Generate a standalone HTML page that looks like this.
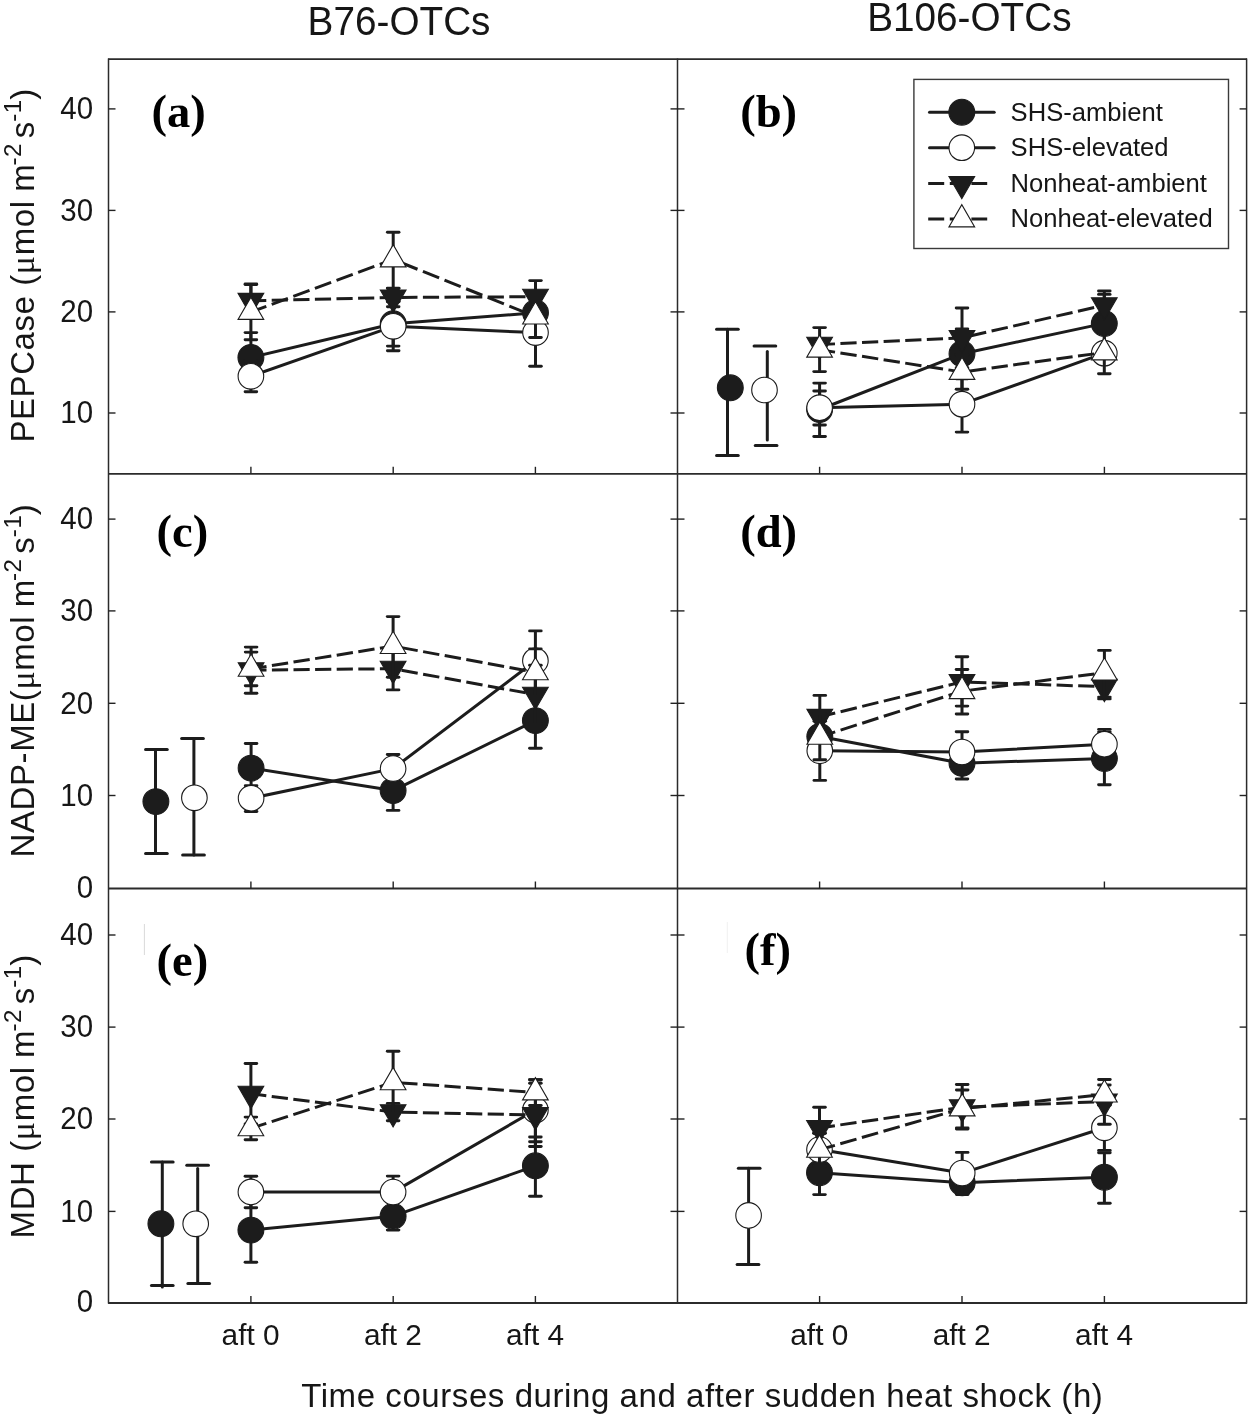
<!DOCTYPE html>
<html><head><meta charset="utf-8"><title>Figure</title>
<style>
html,body{margin:0;padding:0;background:#fff;}
body{width:1250px;height:1418px;overflow:hidden;font-family:"Liberation Sans",sans-serif;}
svg{display:block;}
svg text{font-family:"Liberation Sans",sans-serif;}
svg{will-change:transform;}
svg .ser{font-family:"Liberation Serif",serif;}
</style></head><body>
<svg width="1250" height="1418" viewBox="0 0 1250 1418">
<rect x="0" y="0" width="1250" height="1418" fill="#ffffff"/>
<line x1="108.50" y1="58.60" x2="108.50" y2="1303.60" stroke="#2b2b2b" stroke-width="1.5" />
<line x1="677.50" y1="58.60" x2="677.50" y2="1303.60" stroke="#2b2b2b" stroke-width="1.5" />
<line x1="1246.60" y1="58.60" x2="1246.60" y2="1303.60" stroke="#2b2b2b" stroke-width="1.5" />
<line x1="108.10" y1="59.20" x2="1247.00" y2="59.20" stroke="#2b2b2b" stroke-width="1.8" />
<line x1="108.10" y1="473.80" x2="1247.00" y2="473.80" stroke="#2b2b2b" stroke-width="1.8" />
<line x1="108.10" y1="888.50" x2="1247.00" y2="888.50" stroke="#2b2b2b" stroke-width="1.8" />
<line x1="108.10" y1="1303.00" x2="1247.00" y2="1303.00" stroke="#2b2b2b" stroke-width="1.8" />
<line x1="108.50" y1="108.90" x2="115.50" y2="108.90" stroke="#222" stroke-width="1.4" />
<line x1="670.50" y1="108.90" x2="684.50" y2="108.90" stroke="#222" stroke-width="1.4" />
<line x1="1239.60" y1="108.90" x2="1246.60" y2="108.90" stroke="#222" stroke-width="1.4" />
<line x1="108.50" y1="210.40" x2="115.50" y2="210.40" stroke="#222" stroke-width="1.4" />
<line x1="670.50" y1="210.40" x2="684.50" y2="210.40" stroke="#222" stroke-width="1.4" />
<line x1="1239.60" y1="210.40" x2="1246.60" y2="210.40" stroke="#222" stroke-width="1.4" />
<line x1="108.50" y1="311.90" x2="115.50" y2="311.90" stroke="#222" stroke-width="1.4" />
<line x1="670.50" y1="311.90" x2="684.50" y2="311.90" stroke="#222" stroke-width="1.4" />
<line x1="1239.60" y1="311.90" x2="1246.60" y2="311.90" stroke="#222" stroke-width="1.4" />
<line x1="108.50" y1="413.00" x2="115.50" y2="413.00" stroke="#222" stroke-width="1.4" />
<line x1="670.50" y1="413.00" x2="684.50" y2="413.00" stroke="#222" stroke-width="1.4" />
<line x1="1239.60" y1="413.00" x2="1246.60" y2="413.00" stroke="#222" stroke-width="1.4" />
<line x1="108.50" y1="519.10" x2="115.50" y2="519.10" stroke="#222" stroke-width="1.4" />
<line x1="670.50" y1="519.10" x2="684.50" y2="519.10" stroke="#222" stroke-width="1.4" />
<line x1="1239.60" y1="519.10" x2="1246.60" y2="519.10" stroke="#222" stroke-width="1.4" />
<line x1="108.50" y1="610.90" x2="115.50" y2="610.90" stroke="#222" stroke-width="1.4" />
<line x1="670.50" y1="610.90" x2="684.50" y2="610.90" stroke="#222" stroke-width="1.4" />
<line x1="1239.60" y1="610.90" x2="1246.60" y2="610.90" stroke="#222" stroke-width="1.4" />
<line x1="108.50" y1="703.30" x2="115.50" y2="703.30" stroke="#222" stroke-width="1.4" />
<line x1="670.50" y1="703.30" x2="684.50" y2="703.30" stroke="#222" stroke-width="1.4" />
<line x1="1239.60" y1="703.30" x2="1246.60" y2="703.30" stroke="#222" stroke-width="1.4" />
<line x1="108.50" y1="795.50" x2="115.50" y2="795.50" stroke="#222" stroke-width="1.4" />
<line x1="670.50" y1="795.50" x2="684.50" y2="795.50" stroke="#222" stroke-width="1.4" />
<line x1="1239.60" y1="795.50" x2="1246.60" y2="795.50" stroke="#222" stroke-width="1.4" />
<line x1="108.50" y1="935.00" x2="115.50" y2="935.00" stroke="#222" stroke-width="1.4" />
<line x1="670.50" y1="935.00" x2="684.50" y2="935.00" stroke="#222" stroke-width="1.4" />
<line x1="1239.60" y1="935.00" x2="1246.60" y2="935.00" stroke="#222" stroke-width="1.4" />
<line x1="108.50" y1="1027.10" x2="115.50" y2="1027.10" stroke="#222" stroke-width="1.4" />
<line x1="670.50" y1="1027.10" x2="684.50" y2="1027.10" stroke="#222" stroke-width="1.4" />
<line x1="1239.60" y1="1027.10" x2="1246.60" y2="1027.10" stroke="#222" stroke-width="1.4" />
<line x1="108.50" y1="1119.00" x2="115.50" y2="1119.00" stroke="#222" stroke-width="1.4" />
<line x1="670.50" y1="1119.00" x2="684.50" y2="1119.00" stroke="#222" stroke-width="1.4" />
<line x1="1239.60" y1="1119.00" x2="1246.60" y2="1119.00" stroke="#222" stroke-width="1.4" />
<line x1="108.50" y1="1211.40" x2="115.50" y2="1211.40" stroke="#222" stroke-width="1.4" />
<line x1="670.50" y1="1211.40" x2="684.50" y2="1211.40" stroke="#222" stroke-width="1.4" />
<line x1="1239.60" y1="1211.40" x2="1246.60" y2="1211.40" stroke="#222" stroke-width="1.4" />
<line x1="250.90" y1="466.80" x2="250.90" y2="473.80" stroke="#222" stroke-width="1.4" />
<line x1="393.20" y1="466.80" x2="393.20" y2="473.80" stroke="#222" stroke-width="1.4" />
<line x1="535.40" y1="466.80" x2="535.40" y2="473.80" stroke="#222" stroke-width="1.4" />
<line x1="819.60" y1="466.80" x2="819.60" y2="473.80" stroke="#222" stroke-width="1.4" />
<line x1="962.00" y1="466.80" x2="962.00" y2="473.80" stroke="#222" stroke-width="1.4" />
<line x1="1104.40" y1="466.80" x2="1104.40" y2="473.80" stroke="#222" stroke-width="1.4" />
<line x1="250.90" y1="881.50" x2="250.90" y2="888.50" stroke="#222" stroke-width="1.4" />
<line x1="393.20" y1="881.50" x2="393.20" y2="888.50" stroke="#222" stroke-width="1.4" />
<line x1="535.40" y1="881.50" x2="535.40" y2="888.50" stroke="#222" stroke-width="1.4" />
<line x1="819.60" y1="881.50" x2="819.60" y2="888.50" stroke="#222" stroke-width="1.4" />
<line x1="962.00" y1="881.50" x2="962.00" y2="888.50" stroke="#222" stroke-width="1.4" />
<line x1="1104.40" y1="881.50" x2="1104.40" y2="888.50" stroke="#222" stroke-width="1.4" />
<line x1="250.90" y1="1296.00" x2="250.90" y2="1303.00" stroke="#222" stroke-width="1.4" />
<line x1="393.20" y1="1296.00" x2="393.20" y2="1303.00" stroke="#222" stroke-width="1.4" />
<line x1="535.40" y1="1296.00" x2="535.40" y2="1303.00" stroke="#222" stroke-width="1.4" />
<line x1="819.60" y1="1296.00" x2="819.60" y2="1303.00" stroke="#222" stroke-width="1.4" />
<line x1="962.00" y1="1296.00" x2="962.00" y2="1303.00" stroke="#222" stroke-width="1.4" />
<line x1="1104.40" y1="1296.00" x2="1104.40" y2="1303.00" stroke="#222" stroke-width="1.4" />
<text transform="translate(93.1,119.2) scale(0.96,1)" font-size="30.7" text-anchor="end" fill="#161616">40</text>
<text transform="translate(93.1,220.7) scale(0.96,1)" font-size="30.7" text-anchor="end" fill="#161616">30</text>
<text transform="translate(93.1,322.2) scale(0.96,1)" font-size="30.7" text-anchor="end" fill="#161616">20</text>
<text transform="translate(93.1,423.3) scale(0.96,1)" font-size="30.7" text-anchor="end" fill="#161616">10</text>
<text transform="translate(93.1,529.4) scale(0.96,1)" font-size="30.7" text-anchor="end" fill="#161616">40</text>
<text transform="translate(93.1,621.2) scale(0.96,1)" font-size="30.7" text-anchor="end" fill="#161616">30</text>
<text transform="translate(93.1,713.6) scale(0.96,1)" font-size="30.7" text-anchor="end" fill="#161616">20</text>
<text transform="translate(93.1,805.8) scale(0.96,1)" font-size="30.7" text-anchor="end" fill="#161616">10</text>
<text transform="translate(93.1,897.5) scale(0.96,1)" font-size="30.7" text-anchor="end" fill="#161616">0</text>
<text transform="translate(93.1,945.3) scale(0.96,1)" font-size="30.7" text-anchor="end" fill="#161616">40</text>
<text transform="translate(93.1,1037.4) scale(0.96,1)" font-size="30.7" text-anchor="end" fill="#161616">30</text>
<text transform="translate(93.1,1129.3) scale(0.96,1)" font-size="30.7" text-anchor="end" fill="#161616">20</text>
<text transform="translate(93.1,1221.7) scale(0.96,1)" font-size="30.7" text-anchor="end" fill="#161616">10</text>
<text transform="translate(93.1,1311.8) scale(0.96,1)" font-size="30.7" text-anchor="end" fill="#161616">0</text>
<text x="250.6" y="1344.9" font-size="29.8" text-anchor="middle" fill="#161616" word-spacing="0">aft 0</text>
<text x="392.9" y="1344.9" font-size="29.8" text-anchor="middle" fill="#161616" word-spacing="0">aft 2</text>
<text x="535.1" y="1344.9" font-size="29.8" text-anchor="middle" fill="#161616" word-spacing="0">aft 4</text>
<text x="819.3" y="1344.9" font-size="29.8" text-anchor="middle" fill="#161616" word-spacing="0">aft 0</text>
<text x="961.7" y="1344.9" font-size="29.8" text-anchor="middle" fill="#161616" word-spacing="0">aft 2</text>
<text x="1104.1" y="1344.9" font-size="29.8" text-anchor="middle" fill="#161616" word-spacing="0">aft 4</text>
<text transform="translate(307.6,35.1) scale(0.968,1)" font-size="40" fill="#161616">B76-OTCs</text>
<text transform="translate(867.2,30.7) scale(0.968,1)" font-size="40" fill="#161616">B106-OTCs</text>
<text x="301.2" y="1406.9" font-size="33" letter-spacing="0.575" fill="#161616">Time courses during and after sudden heat shock (h)</text>
<text transform="translate(34.1,442.6) rotate(-90)" font-size="33" letter-spacing="0.58" fill="#161616">PEPCase (<tspan class="ser" font-size="34">μ</tspan>mol <tspan dx="-1.2">m</tspan><tspan font-size="24.2" dy="-13.2" dx="-1.8">-2</tspan><tspan dy="13.2" dx="4.6">s</tspan><tspan font-size="24.2" dy="-13.2" dx="-0.6">-1</tspan><tspan dy="13.2" dx="-0.6">)</tspan></text>
<text transform="translate(34.1,857.4) rotate(-90)" font-size="33" letter-spacing="0.58" fill="#161616">NADP-ME(<tspan class="ser" font-size="34">μ</tspan>mol <tspan dx="-1.2">m</tspan><tspan font-size="24.2" dy="-13.2" dx="-1.8">-2</tspan><tspan dy="13.2" dx="4.6">s</tspan><tspan font-size="24.2" dy="-13.2" dx="-0.6">-1</tspan><tspan dy="13.2" dx="-0.6">)</tspan></text>
<text transform="translate(34.1,1238.4) rotate(-90)" font-size="33" letter-spacing="0.58" fill="#161616">MDH (<tspan class="ser" font-size="34">μ</tspan>mol <tspan dx="-1.2">m</tspan><tspan font-size="24.2" dy="-13.2" dx="-1.8">-2</tspan><tspan dy="13.2" dx="4.6">s</tspan><tspan font-size="24.2" dy="-13.2" dx="-0.6">-1</tspan><tspan dy="13.2" dx="-0.6">)</tspan></text>
<text class="ser" x="151.4" y="126.5" font-size="46.6" font-weight="bold" fill="#000">(a)</text>
<text class="ser" x="740.2" y="126.5" font-size="46.6" font-weight="bold" fill="#000">(b)</text>
<text class="ser" x="156.6" y="547.0" font-size="46.6" font-weight="bold" fill="#000">(c)</text>
<text class="ser" x="740.2" y="547.2" font-size="46.6" font-weight="bold" fill="#000">(d)</text>
<text class="ser" x="156.6" y="976.4" font-size="46.6" font-weight="bold" fill="#000">(e)</text>
<text class="ser" x="744.4" y="965.4" font-size="46.6" font-weight="bold" fill="#000">(f)</text>
<line x1="144.4" y1="924" x2="144.4" y2="955" stroke="#cfcfcf" stroke-width="0.8"/>
<line x1="727.3" y1="922" x2="727.3" y2="953" stroke="#ececec" stroke-width="0.8"/>
<line x1="727.50" y1="329.20" x2="727.50" y2="455.50" stroke="#1c1c1c" stroke-width="3.0" stroke-linecap="round"/>
<line x1="716.55" y1="329.20" x2="738.25" y2="329.20" stroke="#1c1c1c" stroke-width="3.0" stroke-linecap="round"/>
<line x1="716.55" y1="455.50" x2="738.25" y2="455.50" stroke="#1c1c1c" stroke-width="3.0" stroke-linecap="round"/>
<circle cx="730.30" cy="387.80" r="12.92" fill="#1c1c1c" stroke="#1c1c1c" stroke-width="1.1"/>
<line x1="767.30" y1="351.50" x2="767.30" y2="440.00" stroke="#1c1c1c" stroke-width="3.0" stroke-linecap="round"/>
<line x1="754.05" y1="346.10" x2="775.75" y2="346.10" stroke="#1c1c1c" stroke-width="3.0" stroke-linecap="round"/>
<line x1="755.25" y1="445.40" x2="776.95" y2="445.40" stroke="#1c1c1c" stroke-width="3.0" stroke-linecap="round"/>
<circle cx="764.50" cy="390.00" r="12.8" fill="#fff" stroke="#1c1c1c" stroke-width="1.1"/>
<line x1="155.50" y1="749.50" x2="155.50" y2="853.50" stroke="#1c1c1c" stroke-width="3.0" stroke-linecap="round"/>
<line x1="145.55" y1="749.50" x2="167.25" y2="749.50" stroke="#1c1c1c" stroke-width="3.0" stroke-linecap="round"/>
<line x1="145.55" y1="853.50" x2="167.25" y2="853.50" stroke="#1c1c1c" stroke-width="3.0" stroke-linecap="round"/>
<circle cx="155.90" cy="801.60" r="12.92" fill="#1c1c1c" stroke="#1c1c1c" stroke-width="1.1"/>
<line x1="193.90" y1="738.50" x2="193.90" y2="855.00" stroke="#1c1c1c" stroke-width="3.0" stroke-linecap="round"/>
<line x1="181.65" y1="738.50" x2="203.35" y2="738.50" stroke="#1c1c1c" stroke-width="3.0" stroke-linecap="round"/>
<line x1="182.65" y1="855.00" x2="204.35" y2="855.00" stroke="#1c1c1c" stroke-width="3.0" stroke-linecap="round"/>
<circle cx="194.40" cy="797.80" r="12.8" fill="#fff" stroke="#1c1c1c" stroke-width="1.1"/>
<line x1="162.30" y1="1161.90" x2="162.30" y2="1287.00" stroke="#1c1c1c" stroke-width="3.0" stroke-linecap="round"/>
<line x1="151.45" y1="1161.90" x2="173.15" y2="1161.90" stroke="#1c1c1c" stroke-width="3.0" stroke-linecap="round"/>
<line x1="151.45" y1="1285.60" x2="173.15" y2="1285.60" stroke="#1c1c1c" stroke-width="3.0" stroke-linecap="round"/>
<circle cx="160.90" cy="1223.80" r="12.92" fill="#1c1c1c" stroke="#1c1c1c" stroke-width="1.1"/>
<line x1="197.70" y1="1168.50" x2="197.70" y2="1281.50" stroke="#1c1c1c" stroke-width="3.0" stroke-linecap="round"/>
<line x1="186.75" y1="1165.20" x2="208.45" y2="1165.20" stroke="#1c1c1c" stroke-width="3.0" stroke-linecap="round"/>
<line x1="187.85" y1="1283.40" x2="209.55" y2="1283.40" stroke="#1c1c1c" stroke-width="3.0" stroke-linecap="round"/>
<circle cx="195.70" cy="1223.80" r="12.8" fill="#fff" stroke="#1c1c1c" stroke-width="1.1"/>
<line x1="748.60" y1="1168.20" x2="748.60" y2="1264.40" stroke="#1c1c1c" stroke-width="3.0" stroke-linecap="round"/>
<line x1="738.35" y1="1168.20" x2="760.05" y2="1168.20" stroke="#1c1c1c" stroke-width="3.0" stroke-linecap="round"/>
<line x1="737.15" y1="1264.40" x2="758.85" y2="1264.40" stroke="#1c1c1c" stroke-width="3.0" stroke-linecap="round"/>
<circle cx="748.60" cy="1215.40" r="12.8" fill="#fff" stroke="#1c1c1c" stroke-width="1.1"/>
<path d="M250.90,357.50 L393.20,323.80 L535.50,312.80" fill="none" stroke="#1c1c1c" stroke-width="3.0" stroke-linejoin="round"/>
<line x1="250.90" y1="332.60" x2="250.90" y2="382.40" stroke="#1c1c1c" stroke-width="3.0"/>
<line x1="245.10" y1="332.60" x2="256.70" y2="332.60" stroke="#1c1c1c" stroke-width="2.9" stroke-linecap="round"/>
<line x1="245.10" y1="382.40" x2="256.70" y2="382.40" stroke="#1c1c1c" stroke-width="2.9" stroke-linecap="round"/>
<line x1="393.20" y1="301.50" x2="393.20" y2="346.10" stroke="#1c1c1c" stroke-width="3.0"/>
<line x1="387.40" y1="301.50" x2="399.00" y2="301.50" stroke="#1c1c1c" stroke-width="2.9" stroke-linecap="round"/>
<line x1="387.40" y1="346.10" x2="399.00" y2="346.10" stroke="#1c1c1c" stroke-width="2.9" stroke-linecap="round"/>
<line x1="535.50" y1="297.80" x2="535.50" y2="327.80" stroke="#1c1c1c" stroke-width="3.0"/>
<line x1="529.70" y1="297.80" x2="541.30" y2="297.80" stroke="#1c1c1c" stroke-width="2.9" stroke-linecap="round"/>
<line x1="529.70" y1="327.80" x2="541.30" y2="327.80" stroke="#1c1c1c" stroke-width="2.9" stroke-linecap="round"/>
<circle cx="250.90" cy="357.50" r="12.92" fill="#1c1c1c" stroke="#1c1c1c" stroke-width="1.1"/>
<circle cx="393.20" cy="323.80" r="12.92" fill="#1c1c1c" stroke="#1c1c1c" stroke-width="1.1"/>
<circle cx="535.50" cy="312.80" r="12.92" fill="#1c1c1c" stroke="#1c1c1c" stroke-width="1.1"/>
<path d="M250.90,376.30 L393.20,326.30 L535.50,332.60" fill="none" stroke="#1c1c1c" stroke-width="3.0" stroke-linejoin="round"/>
<line x1="250.90" y1="360.90" x2="250.90" y2="391.70" stroke="#1c1c1c" stroke-width="3.0"/>
<line x1="245.10" y1="360.90" x2="256.70" y2="360.90" stroke="#1c1c1c" stroke-width="2.9" stroke-linecap="round"/>
<line x1="245.10" y1="391.70" x2="256.70" y2="391.70" stroke="#1c1c1c" stroke-width="2.9" stroke-linecap="round"/>
<line x1="393.20" y1="301.80" x2="393.20" y2="350.80" stroke="#1c1c1c" stroke-width="3.0"/>
<line x1="387.40" y1="301.80" x2="399.00" y2="301.80" stroke="#1c1c1c" stroke-width="2.9" stroke-linecap="round"/>
<line x1="387.40" y1="350.80" x2="399.00" y2="350.80" stroke="#1c1c1c" stroke-width="2.9" stroke-linecap="round"/>
<line x1="535.50" y1="298.90" x2="535.50" y2="366.30" stroke="#1c1c1c" stroke-width="3.0"/>
<line x1="529.70" y1="298.90" x2="541.30" y2="298.90" stroke="#1c1c1c" stroke-width="2.9" stroke-linecap="round"/>
<line x1="529.70" y1="366.30" x2="541.30" y2="366.30" stroke="#1c1c1c" stroke-width="2.9" stroke-linecap="round"/>
<circle cx="250.90" cy="376.30" r="12.8" fill="#fff" stroke="#1c1c1c" stroke-width="1.1"/>
<circle cx="393.20" cy="326.30" r="12.8" fill="#fff" stroke="#1c1c1c" stroke-width="1.1"/>
<circle cx="535.50" cy="332.60" r="12.8" fill="#fff" stroke="#1c1c1c" stroke-width="1.1"/>
<line x1="250.90" y1="300.80" x2="393.20" y2="297.50" stroke="#1c1c1c" stroke-width="3.0" stroke-dasharray="16.20 5.40" stroke-dashoffset="0.80"/>
<line x1="393.20" y1="297.50" x2="535.50" y2="296.70" stroke="#1c1c1c" stroke-width="3.0" stroke-dasharray="16.20 5.40" stroke-dashoffset="13.50"/>
<line x1="250.90" y1="284.50" x2="250.90" y2="316.80" stroke="#1c1c1c" stroke-width="3.0"/>
<line x1="245.10" y1="284.50" x2="256.70" y2="284.50" stroke="#1c1c1c" stroke-width="2.9" stroke-linecap="round"/>
<line x1="245.10" y1="316.80" x2="256.70" y2="316.80" stroke="#1c1c1c" stroke-width="2.9" stroke-linecap="round"/>
<line x1="393.20" y1="288.50" x2="393.20" y2="306.80" stroke="#1c1c1c" stroke-width="3.0"/>
<line x1="387.40" y1="288.50" x2="399.00" y2="288.50" stroke="#1c1c1c" stroke-width="2.9" stroke-linecap="round"/>
<line x1="387.40" y1="306.80" x2="399.00" y2="306.80" stroke="#1c1c1c" stroke-width="2.9" stroke-linecap="round"/>
<line x1="535.50" y1="280.60" x2="535.50" y2="312.80" stroke="#1c1c1c" stroke-width="3.0"/>
<line x1="529.70" y1="280.60" x2="541.30" y2="280.60" stroke="#1c1c1c" stroke-width="2.9" stroke-linecap="round"/>
<line x1="529.70" y1="312.80" x2="541.30" y2="312.80" stroke="#1c1c1c" stroke-width="2.9" stroke-linecap="round"/>
<polygon points="238.05,293.38 263.75,293.38 250.90,315.63" fill="#1c1c1c" stroke="#1c1c1c" stroke-width="1.1" stroke-linejoin="miter"/>
<polygon points="380.35,290.08 406.05,290.08 393.20,312.33" fill="#1c1c1c" stroke="#1c1c1c" stroke-width="1.1" stroke-linejoin="miter"/>
<polygon points="522.65,289.28 548.35,289.28 535.50,311.53" fill="#1c1c1c" stroke="#1c1c1c" stroke-width="1.1" stroke-linejoin="miter"/>
<line x1="250.90" y1="312.00" x2="393.20" y2="259.50" stroke="#1c1c1c" stroke-width="3.0" stroke-dasharray="17.27 5.76" stroke-dashoffset="0.85"/>
<line x1="393.20" y1="259.50" x2="535.50" y2="316.60" stroke="#1c1c1c" stroke-width="3.0" stroke-dasharray="17.46 5.82" stroke-dashoffset="14.55"/>
<line x1="250.90" y1="284.00" x2="250.90" y2="339.80" stroke="#1c1c1c" stroke-width="3.0"/>
<line x1="245.10" y1="284.00" x2="256.70" y2="284.00" stroke="#1c1c1c" stroke-width="2.9" stroke-linecap="round"/>
<line x1="245.10" y1="339.80" x2="256.70" y2="339.80" stroke="#1c1c1c" stroke-width="2.9" stroke-linecap="round"/>
<line x1="393.20" y1="232.20" x2="393.20" y2="288.10" stroke="#1c1c1c" stroke-width="3.0"/>
<line x1="387.40" y1="232.20" x2="399.00" y2="232.20" stroke="#1c1c1c" stroke-width="2.9" stroke-linecap="round"/>
<line x1="387.40" y1="288.10" x2="399.00" y2="288.10" stroke="#1c1c1c" stroke-width="2.9" stroke-linecap="round"/>
<line x1="535.50" y1="295.50" x2="535.50" y2="337.50" stroke="#1c1c1c" stroke-width="3.0"/>
<line x1="529.70" y1="295.50" x2="541.30" y2="295.50" stroke="#1c1c1c" stroke-width="2.9" stroke-linecap="round"/>
<line x1="529.70" y1="337.50" x2="541.30" y2="337.50" stroke="#1c1c1c" stroke-width="2.9" stroke-linecap="round"/>
<polygon points="238.05,319.42 263.75,319.42 250.90,297.17" fill="#fff" stroke="#1c1c1c" stroke-width="1.1" stroke-linejoin="miter"/>
<polygon points="380.35,266.92 406.05,266.92 393.20,244.67" fill="#fff" stroke="#1c1c1c" stroke-width="1.1" stroke-linejoin="miter"/>
<polygon points="522.65,324.02 548.35,324.02 535.50,301.77" fill="#fff" stroke="#1c1c1c" stroke-width="1.1" stroke-linejoin="miter"/>
<path d="M819.60,409.50 L962.00,353.80 L1104.30,323.40" fill="none" stroke="#1c1c1c" stroke-width="3.0" stroke-linejoin="round"/>
<line x1="819.60" y1="383.10" x2="819.60" y2="436.50" stroke="#1c1c1c" stroke-width="3.0"/>
<line x1="813.80" y1="383.10" x2="825.40" y2="383.10" stroke="#1c1c1c" stroke-width="2.9" stroke-linecap="round"/>
<line x1="813.80" y1="436.50" x2="825.40" y2="436.50" stroke="#1c1c1c" stroke-width="2.9" stroke-linecap="round"/>
<line x1="962.00" y1="328.90" x2="962.00" y2="378.70" stroke="#1c1c1c" stroke-width="3.0"/>
<line x1="956.20" y1="328.90" x2="967.80" y2="328.90" stroke="#1c1c1c" stroke-width="2.9" stroke-linecap="round"/>
<line x1="956.20" y1="378.70" x2="967.80" y2="378.70" stroke="#1c1c1c" stroke-width="2.9" stroke-linecap="round"/>
<line x1="1104.30" y1="294.40" x2="1104.30" y2="352.40" stroke="#1c1c1c" stroke-width="3.0"/>
<line x1="1098.50" y1="294.40" x2="1110.10" y2="294.40" stroke="#1c1c1c" stroke-width="2.9" stroke-linecap="round"/>
<line x1="1098.50" y1="352.40" x2="1110.10" y2="352.40" stroke="#1c1c1c" stroke-width="2.9" stroke-linecap="round"/>
<circle cx="819.60" cy="409.50" r="12.92" fill="#1c1c1c" stroke="#1c1c1c" stroke-width="1.1"/>
<circle cx="962.00" cy="353.80" r="12.92" fill="#1c1c1c" stroke="#1c1c1c" stroke-width="1.1"/>
<circle cx="1104.30" cy="323.40" r="12.92" fill="#1c1c1c" stroke="#1c1c1c" stroke-width="1.1"/>
<path d="M819.60,407.70 L962.00,404.20 L1104.30,353.20" fill="none" stroke="#1c1c1c" stroke-width="3.0" stroke-linejoin="round"/>
<line x1="819.60" y1="391.00" x2="819.60" y2="425.00" stroke="#1c1c1c" stroke-width="3.0"/>
<line x1="813.80" y1="391.00" x2="825.40" y2="391.00" stroke="#1c1c1c" stroke-width="2.9" stroke-linecap="round"/>
<line x1="813.80" y1="425.00" x2="825.40" y2="425.00" stroke="#1c1c1c" stroke-width="2.9" stroke-linecap="round"/>
<line x1="962.00" y1="376.30" x2="962.00" y2="432.10" stroke="#1c1c1c" stroke-width="3.0"/>
<line x1="956.20" y1="376.30" x2="967.80" y2="376.30" stroke="#1c1c1c" stroke-width="2.9" stroke-linecap="round"/>
<line x1="956.20" y1="432.10" x2="967.80" y2="432.10" stroke="#1c1c1c" stroke-width="2.9" stroke-linecap="round"/>
<line x1="1104.30" y1="343.20" x2="1104.30" y2="363.20" stroke="#1c1c1c" stroke-width="3.0"/>
<line x1="1098.50" y1="343.20" x2="1110.10" y2="343.20" stroke="#1c1c1c" stroke-width="2.9" stroke-linecap="round"/>
<line x1="1098.50" y1="363.20" x2="1110.10" y2="363.20" stroke="#1c1c1c" stroke-width="2.9" stroke-linecap="round"/>
<circle cx="819.60" cy="407.70" r="12.8" fill="#fff" stroke="#1c1c1c" stroke-width="1.1"/>
<circle cx="962.00" cy="404.20" r="12.8" fill="#fff" stroke="#1c1c1c" stroke-width="1.1"/>
<circle cx="1104.30" cy="353.20" r="12.8" fill="#fff" stroke="#1c1c1c" stroke-width="1.1"/>
<line x1="819.60" y1="344.60" x2="962.00" y2="337.90" stroke="#1c1c1c" stroke-width="3.0" stroke-dasharray="16.22 5.41" stroke-dashoffset="0.80"/>
<line x1="962.00" y1="337.90" x2="1104.30" y2="305.10" stroke="#1c1c1c" stroke-width="3.0" stroke-dasharray="16.62 5.54" stroke-dashoffset="13.96"/>
<line x1="819.60" y1="338.60" x2="819.60" y2="350.60" stroke="#1c1c1c" stroke-width="3.0"/>
<line x1="813.80" y1="338.60" x2="825.40" y2="338.60" stroke="#1c1c1c" stroke-width="2.9" stroke-linecap="round"/>
<line x1="813.80" y1="350.60" x2="825.40" y2="350.60" stroke="#1c1c1c" stroke-width="2.9" stroke-linecap="round"/>
<line x1="962.00" y1="308.00" x2="962.00" y2="367.80" stroke="#1c1c1c" stroke-width="3.0"/>
<line x1="956.20" y1="308.00" x2="967.80" y2="308.00" stroke="#1c1c1c" stroke-width="2.9" stroke-linecap="round"/>
<line x1="956.20" y1="367.80" x2="967.80" y2="367.80" stroke="#1c1c1c" stroke-width="2.9" stroke-linecap="round"/>
<line x1="1104.30" y1="291.00" x2="1104.30" y2="319.20" stroke="#1c1c1c" stroke-width="3.0"/>
<line x1="1098.50" y1="291.00" x2="1110.10" y2="291.00" stroke="#1c1c1c" stroke-width="2.9" stroke-linecap="round"/>
<line x1="1098.50" y1="319.20" x2="1110.10" y2="319.20" stroke="#1c1c1c" stroke-width="2.9" stroke-linecap="round"/>
<polygon points="806.75,337.18 832.45,337.18 819.60,359.43" fill="#1c1c1c" stroke="#1c1c1c" stroke-width="1.1" stroke-linejoin="miter"/>
<polygon points="949.15,330.48 974.85,330.48 962.00,352.73" fill="#1c1c1c" stroke="#1c1c1c" stroke-width="1.1" stroke-linejoin="miter"/>
<polygon points="1091.45,297.68 1117.15,297.68 1104.30,319.93" fill="#1c1c1c" stroke="#1c1c1c" stroke-width="1.1" stroke-linejoin="miter"/>
<line x1="819.60" y1="349.70" x2="962.00" y2="372.00" stroke="#1c1c1c" stroke-width="3.0" stroke-dasharray="16.40 5.47" stroke-dashoffset="0.81"/>
<line x1="962.00" y1="372.00" x2="1104.30" y2="352.50" stroke="#1c1c1c" stroke-width="3.0" stroke-dasharray="16.35 5.45" stroke-dashoffset="13.73"/>
<line x1="819.60" y1="327.60" x2="819.60" y2="371.60" stroke="#1c1c1c" stroke-width="3.0"/>
<line x1="813.80" y1="327.60" x2="825.40" y2="327.60" stroke="#1c1c1c" stroke-width="2.9" stroke-linecap="round"/>
<line x1="813.80" y1="371.60" x2="825.40" y2="371.60" stroke="#1c1c1c" stroke-width="2.9" stroke-linecap="round"/>
<line x1="962.00" y1="354.80" x2="962.00" y2="389.20" stroke="#1c1c1c" stroke-width="3.0"/>
<line x1="956.20" y1="354.80" x2="967.80" y2="354.80" stroke="#1c1c1c" stroke-width="2.9" stroke-linecap="round"/>
<line x1="956.20" y1="389.20" x2="967.80" y2="389.20" stroke="#1c1c1c" stroke-width="2.9" stroke-linecap="round"/>
<line x1="1104.30" y1="331.30" x2="1104.30" y2="373.70" stroke="#1c1c1c" stroke-width="3.0"/>
<line x1="1098.50" y1="331.30" x2="1110.10" y2="331.30" stroke="#1c1c1c" stroke-width="2.9" stroke-linecap="round"/>
<line x1="1098.50" y1="373.70" x2="1110.10" y2="373.70" stroke="#1c1c1c" stroke-width="2.9" stroke-linecap="round"/>
<polygon points="806.75,357.12 832.45,357.12 819.60,334.87" fill="#fff" stroke="#1c1c1c" stroke-width="1.1" stroke-linejoin="miter"/>
<polygon points="949.15,379.42 974.85,379.42 962.00,357.17" fill="#fff" stroke="#1c1c1c" stroke-width="1.1" stroke-linejoin="miter"/>
<polygon points="1091.45,359.92 1117.15,359.92 1104.30,337.67" fill="#fff" stroke="#1c1c1c" stroke-width="1.1" stroke-linejoin="miter"/>
<path d="M251.10,768.10 L393.10,790.60 L535.40,720.60" fill="none" stroke="#1c1c1c" stroke-width="3.0" stroke-linejoin="round"/>
<line x1="251.10" y1="743.50" x2="251.10" y2="792.70" stroke="#1c1c1c" stroke-width="3.0"/>
<line x1="245.30" y1="743.50" x2="256.90" y2="743.50" stroke="#1c1c1c" stroke-width="2.9" stroke-linecap="round"/>
<line x1="245.30" y1="792.70" x2="256.90" y2="792.70" stroke="#1c1c1c" stroke-width="2.9" stroke-linecap="round"/>
<line x1="393.10" y1="770.80" x2="393.10" y2="810.40" stroke="#1c1c1c" stroke-width="3.0"/>
<line x1="387.30" y1="770.80" x2="398.90" y2="770.80" stroke="#1c1c1c" stroke-width="2.9" stroke-linecap="round"/>
<line x1="387.30" y1="810.40" x2="398.90" y2="810.40" stroke="#1c1c1c" stroke-width="2.9" stroke-linecap="round"/>
<line x1="535.40" y1="693.00" x2="535.40" y2="748.20" stroke="#1c1c1c" stroke-width="3.0"/>
<line x1="529.60" y1="693.00" x2="541.20" y2="693.00" stroke="#1c1c1c" stroke-width="2.9" stroke-linecap="round"/>
<line x1="529.60" y1="748.20" x2="541.20" y2="748.20" stroke="#1c1c1c" stroke-width="2.9" stroke-linecap="round"/>
<circle cx="251.10" cy="768.10" r="12.92" fill="#1c1c1c" stroke="#1c1c1c" stroke-width="1.1"/>
<circle cx="393.10" cy="790.60" r="12.92" fill="#1c1c1c" stroke="#1c1c1c" stroke-width="1.1"/>
<circle cx="535.40" cy="720.60" r="12.92" fill="#1c1c1c" stroke="#1c1c1c" stroke-width="1.1"/>
<path d="M251.10,798.20 L393.10,768.60 L535.40,660.80" fill="none" stroke="#1c1c1c" stroke-width="3.0" stroke-linejoin="round"/>
<line x1="251.10" y1="785.70" x2="251.10" y2="811.50" stroke="#1c1c1c" stroke-width="3.0"/>
<line x1="245.30" y1="785.70" x2="256.90" y2="785.70" stroke="#1c1c1c" stroke-width="2.9" stroke-linecap="round"/>
<line x1="245.30" y1="811.50" x2="256.90" y2="811.50" stroke="#1c1c1c" stroke-width="2.9" stroke-linecap="round"/>
<line x1="393.10" y1="754.50" x2="393.10" y2="782.70" stroke="#1c1c1c" stroke-width="3.0"/>
<line x1="387.30" y1="754.50" x2="398.90" y2="754.50" stroke="#1c1c1c" stroke-width="2.9" stroke-linecap="round"/>
<line x1="387.30" y1="782.70" x2="398.90" y2="782.70" stroke="#1c1c1c" stroke-width="2.9" stroke-linecap="round"/>
<line x1="535.40" y1="630.90" x2="535.40" y2="690.70" stroke="#1c1c1c" stroke-width="3.0"/>
<line x1="529.60" y1="630.90" x2="541.20" y2="630.90" stroke="#1c1c1c" stroke-width="2.9" stroke-linecap="round"/>
<line x1="529.60" y1="690.70" x2="541.20" y2="690.70" stroke="#1c1c1c" stroke-width="2.9" stroke-linecap="round"/>
<circle cx="251.10" cy="798.20" r="12.8" fill="#fff" stroke="#1c1c1c" stroke-width="1.1"/>
<circle cx="393.10" cy="768.60" r="12.8" fill="#fff" stroke="#1c1c1c" stroke-width="1.1"/>
<circle cx="535.40" cy="660.80" r="12.8" fill="#fff" stroke="#1c1c1c" stroke-width="1.1"/>
<line x1="251.10" y1="670.20" x2="393.10" y2="668.70" stroke="#1c1c1c" stroke-width="3.0" stroke-dasharray="16.20 5.40" stroke-dashoffset="0.80"/>
<line x1="393.10" y1="668.70" x2="535.40" y2="694.60" stroke="#1c1c1c" stroke-width="3.0" stroke-dasharray="16.47 5.49" stroke-dashoffset="13.42"/>
<line x1="251.10" y1="647.10" x2="251.10" y2="693.30" stroke="#1c1c1c" stroke-width="3.0"/>
<line x1="245.30" y1="647.10" x2="256.90" y2="647.10" stroke="#1c1c1c" stroke-width="2.9" stroke-linecap="round"/>
<line x1="245.30" y1="693.30" x2="256.90" y2="693.30" stroke="#1c1c1c" stroke-width="2.9" stroke-linecap="round"/>
<line x1="393.10" y1="647.50" x2="393.10" y2="689.90" stroke="#1c1c1c" stroke-width="3.0"/>
<line x1="387.30" y1="647.50" x2="398.90" y2="647.50" stroke="#1c1c1c" stroke-width="2.9" stroke-linecap="round"/>
<line x1="387.30" y1="689.90" x2="398.90" y2="689.90" stroke="#1c1c1c" stroke-width="2.9" stroke-linecap="round"/>
<line x1="535.40" y1="665.30" x2="535.40" y2="723.90" stroke="#1c1c1c" stroke-width="3.0"/>
<line x1="529.60" y1="665.30" x2="541.20" y2="665.30" stroke="#1c1c1c" stroke-width="2.9" stroke-linecap="round"/>
<line x1="529.60" y1="723.90" x2="541.20" y2="723.90" stroke="#1c1c1c" stroke-width="2.9" stroke-linecap="round"/>
<polygon points="238.25,662.78 263.95,662.78 251.10,685.03" fill="#1c1c1c" stroke="#1c1c1c" stroke-width="1.1" stroke-linejoin="miter"/>
<polygon points="380.25,661.28 405.95,661.28 393.10,683.53" fill="#1c1c1c" stroke="#1c1c1c" stroke-width="1.1" stroke-linejoin="miter"/>
<polygon points="522.55,687.18 548.25,687.18 535.40,709.43" fill="#1c1c1c" stroke="#1c1c1c" stroke-width="1.1" stroke-linejoin="miter"/>
<line x1="251.10" y1="668.90" x2="393.10" y2="646.10" stroke="#1c1c1c" stroke-width="3.0" stroke-dasharray="16.41 5.47" stroke-dashoffset="0.81"/>
<line x1="393.10" y1="646.10" x2="535.40" y2="672.30" stroke="#1c1c1c" stroke-width="3.0" stroke-dasharray="16.47 5.49" stroke-dashoffset="13.42"/>
<line x1="251.10" y1="652.10" x2="251.10" y2="685.70" stroke="#1c1c1c" stroke-width="3.0"/>
<line x1="245.30" y1="652.10" x2="256.90" y2="652.10" stroke="#1c1c1c" stroke-width="2.9" stroke-linecap="round"/>
<line x1="245.30" y1="685.70" x2="256.90" y2="685.70" stroke="#1c1c1c" stroke-width="2.9" stroke-linecap="round"/>
<line x1="393.10" y1="616.60" x2="393.10" y2="677.20" stroke="#1c1c1c" stroke-width="3.0"/>
<line x1="387.30" y1="616.60" x2="398.90" y2="616.60" stroke="#1c1c1c" stroke-width="2.9" stroke-linecap="round"/>
<line x1="387.30" y1="677.20" x2="398.90" y2="677.20" stroke="#1c1c1c" stroke-width="2.9" stroke-linecap="round"/>
<line x1="535.40" y1="648.90" x2="535.40" y2="695.70" stroke="#1c1c1c" stroke-width="3.0"/>
<line x1="529.60" y1="648.90" x2="541.20" y2="648.90" stroke="#1c1c1c" stroke-width="2.9" stroke-linecap="round"/>
<line x1="529.60" y1="695.70" x2="541.20" y2="695.70" stroke="#1c1c1c" stroke-width="2.9" stroke-linecap="round"/>
<polygon points="238.25,676.32 263.95,676.32 251.10,654.07" fill="#fff" stroke="#1c1c1c" stroke-width="1.1" stroke-linejoin="miter"/>
<polygon points="380.25,653.52 405.95,653.52 393.10,631.27" fill="#fff" stroke="#1c1c1c" stroke-width="1.1" stroke-linejoin="miter"/>
<polygon points="522.55,679.72 548.25,679.72 535.40,657.47" fill="#fff" stroke="#1c1c1c" stroke-width="1.1" stroke-linejoin="miter"/>
<path d="M819.80,736.50 L962.00,763.30 L1104.40,758.40" fill="none" stroke="#1c1c1c" stroke-width="3.0" stroke-linejoin="round"/>
<line x1="819.80" y1="726.50" x2="819.80" y2="746.50" stroke="#1c1c1c" stroke-width="3.0"/>
<line x1="814.00" y1="726.50" x2="825.60" y2="726.50" stroke="#1c1c1c" stroke-width="2.9" stroke-linecap="round"/>
<line x1="814.00" y1="746.50" x2="825.60" y2="746.50" stroke="#1c1c1c" stroke-width="2.9" stroke-linecap="round"/>
<line x1="962.00" y1="747.60" x2="962.00" y2="779.00" stroke="#1c1c1c" stroke-width="3.0"/>
<line x1="956.20" y1="747.60" x2="967.80" y2="747.60" stroke="#1c1c1c" stroke-width="2.9" stroke-linecap="round"/>
<line x1="956.20" y1="779.00" x2="967.80" y2="779.00" stroke="#1c1c1c" stroke-width="2.9" stroke-linecap="round"/>
<line x1="1104.40" y1="732.10" x2="1104.40" y2="784.70" stroke="#1c1c1c" stroke-width="3.0"/>
<line x1="1098.60" y1="732.10" x2="1110.20" y2="732.10" stroke="#1c1c1c" stroke-width="2.9" stroke-linecap="round"/>
<line x1="1098.60" y1="784.70" x2="1110.20" y2="784.70" stroke="#1c1c1c" stroke-width="2.9" stroke-linecap="round"/>
<circle cx="819.80" cy="736.50" r="12.92" fill="#1c1c1c" stroke="#1c1c1c" stroke-width="1.1"/>
<circle cx="962.00" cy="763.30" r="12.92" fill="#1c1c1c" stroke="#1c1c1c" stroke-width="1.1"/>
<circle cx="1104.40" cy="758.40" r="12.92" fill="#1c1c1c" stroke="#1c1c1c" stroke-width="1.1"/>
<path d="M819.80,750.80 L962.00,752.00 L1104.40,744.20" fill="none" stroke="#1c1c1c" stroke-width="3.0" stroke-linejoin="round"/>
<line x1="819.80" y1="721.20" x2="819.80" y2="780.40" stroke="#1c1c1c" stroke-width="3.0"/>
<line x1="814.00" y1="721.20" x2="825.60" y2="721.20" stroke="#1c1c1c" stroke-width="2.9" stroke-linecap="round"/>
<line x1="814.00" y1="780.40" x2="825.60" y2="780.40" stroke="#1c1c1c" stroke-width="2.9" stroke-linecap="round"/>
<line x1="962.00" y1="731.80" x2="962.00" y2="772.20" stroke="#1c1c1c" stroke-width="3.0"/>
<line x1="956.20" y1="731.80" x2="967.80" y2="731.80" stroke="#1c1c1c" stroke-width="2.9" stroke-linecap="round"/>
<line x1="956.20" y1="772.20" x2="967.80" y2="772.20" stroke="#1c1c1c" stroke-width="2.9" stroke-linecap="round"/>
<line x1="1104.40" y1="729.40" x2="1104.40" y2="759.00" stroke="#1c1c1c" stroke-width="3.0"/>
<line x1="1098.60" y1="729.40" x2="1110.20" y2="729.40" stroke="#1c1c1c" stroke-width="2.9" stroke-linecap="round"/>
<line x1="1098.60" y1="759.00" x2="1110.20" y2="759.00" stroke="#1c1c1c" stroke-width="2.9" stroke-linecap="round"/>
<circle cx="819.80" cy="750.80" r="12.8" fill="#fff" stroke="#1c1c1c" stroke-width="1.1"/>
<circle cx="962.00" cy="752.00" r="12.8" fill="#fff" stroke="#1c1c1c" stroke-width="1.1"/>
<circle cx="1104.40" cy="744.20" r="12.8" fill="#fff" stroke="#1c1c1c" stroke-width="1.1"/>
<line x1="819.80" y1="716.80" x2="962.00" y2="681.90" stroke="#1c1c1c" stroke-width="3.0" stroke-dasharray="16.68 5.56" stroke-dashoffset="0.82"/>
<line x1="962.00" y1="681.90" x2="1104.40" y2="686.70" stroke="#1c1c1c" stroke-width="3.0" stroke-dasharray="16.21 5.40" stroke-dashoffset="13.41"/>
<line x1="819.80" y1="695.40" x2="819.80" y2="738.20" stroke="#1c1c1c" stroke-width="3.0"/>
<line x1="814.00" y1="695.40" x2="825.60" y2="695.40" stroke="#1c1c1c" stroke-width="2.9" stroke-linecap="round"/>
<line x1="814.00" y1="738.20" x2="825.60" y2="738.20" stroke="#1c1c1c" stroke-width="2.9" stroke-linecap="round"/>
<line x1="962.00" y1="656.80" x2="962.00" y2="706.10" stroke="#1c1c1c" stroke-width="3.0"/>
<line x1="956.20" y1="656.80" x2="967.80" y2="656.80" stroke="#1c1c1c" stroke-width="2.9" stroke-linecap="round"/>
<line x1="956.20" y1="706.10" x2="967.80" y2="706.10" stroke="#1c1c1c" stroke-width="2.9" stroke-linecap="round"/>
<line x1="1104.40" y1="674.50" x2="1104.40" y2="698.90" stroke="#1c1c1c" stroke-width="3.0"/>
<line x1="1098.60" y1="674.50" x2="1110.20" y2="674.50" stroke="#1c1c1c" stroke-width="2.9" stroke-linecap="round"/>
<line x1="1098.60" y1="698.90" x2="1110.20" y2="698.90" stroke="#1c1c1c" stroke-width="2.9" stroke-linecap="round"/>
<polygon points="806.95,709.38 832.65,709.38 819.80,731.63" fill="#1c1c1c" stroke="#1c1c1c" stroke-width="1.1" stroke-linejoin="miter"/>
<polygon points="949.15,674.48 974.85,674.48 962.00,696.73" fill="#1c1c1c" stroke="#1c1c1c" stroke-width="1.1" stroke-linejoin="miter"/>
<polygon points="1091.55,679.28 1117.25,679.28 1104.40,701.53" fill="#1c1c1c" stroke="#1c1c1c" stroke-width="1.1" stroke-linejoin="miter"/>
<line x1="819.80" y1="736.80" x2="962.00" y2="691.20" stroke="#1c1c1c" stroke-width="3.0" stroke-dasharray="17.01 5.67" stroke-dashoffset="0.84"/>
<line x1="962.00" y1="691.20" x2="1104.40" y2="672.60" stroke="#1c1c1c" stroke-width="3.0" stroke-dasharray="16.34 5.45" stroke-dashoffset="13.51"/>
<line x1="819.80" y1="713.90" x2="819.80" y2="759.70" stroke="#1c1c1c" stroke-width="3.0"/>
<line x1="814.00" y1="713.90" x2="825.60" y2="713.90" stroke="#1c1c1c" stroke-width="2.9" stroke-linecap="round"/>
<line x1="814.00" y1="759.70" x2="825.60" y2="759.70" stroke="#1c1c1c" stroke-width="2.9" stroke-linecap="round"/>
<line x1="962.00" y1="669.50" x2="962.00" y2="714.00" stroke="#1c1c1c" stroke-width="3.0"/>
<line x1="956.20" y1="669.50" x2="967.80" y2="669.50" stroke="#1c1c1c" stroke-width="2.9" stroke-linecap="round"/>
<line x1="956.20" y1="714.00" x2="967.80" y2="714.00" stroke="#1c1c1c" stroke-width="2.9" stroke-linecap="round"/>
<line x1="1104.40" y1="650.40" x2="1104.40" y2="697.10" stroke="#1c1c1c" stroke-width="3.0"/>
<line x1="1098.60" y1="650.40" x2="1110.20" y2="650.40" stroke="#1c1c1c" stroke-width="2.9" stroke-linecap="round"/>
<line x1="1098.60" y1="697.10" x2="1110.20" y2="697.10" stroke="#1c1c1c" stroke-width="2.9" stroke-linecap="round"/>
<polygon points="806.95,744.22 832.65,744.22 819.80,721.97" fill="#fff" stroke="#1c1c1c" stroke-width="1.1" stroke-linejoin="miter"/>
<polygon points="949.15,698.62 974.85,698.62 962.00,676.37" fill="#fff" stroke="#1c1c1c" stroke-width="1.1" stroke-linejoin="miter"/>
<polygon points="1091.55,680.02 1117.25,680.02 1104.40,657.77" fill="#fff" stroke="#1c1c1c" stroke-width="1.1" stroke-linejoin="miter"/>
<path d="M250.90,1230.10 L393.10,1216.20 L535.40,1165.80" fill="none" stroke="#1c1c1c" stroke-width="3.0" stroke-linejoin="round"/>
<line x1="250.90" y1="1198.00" x2="250.90" y2="1262.20" stroke="#1c1c1c" stroke-width="3.0"/>
<line x1="245.10" y1="1198.00" x2="256.70" y2="1198.00" stroke="#1c1c1c" stroke-width="2.9" stroke-linecap="round"/>
<line x1="245.10" y1="1262.20" x2="256.70" y2="1262.20" stroke="#1c1c1c" stroke-width="2.9" stroke-linecap="round"/>
<line x1="393.10" y1="1202.30" x2="393.10" y2="1230.10" stroke="#1c1c1c" stroke-width="3.0"/>
<line x1="387.30" y1="1202.30" x2="398.90" y2="1202.30" stroke="#1c1c1c" stroke-width="2.9" stroke-linecap="round"/>
<line x1="387.30" y1="1230.10" x2="398.90" y2="1230.10" stroke="#1c1c1c" stroke-width="2.9" stroke-linecap="round"/>
<line x1="535.40" y1="1137.00" x2="535.40" y2="1196.20" stroke="#1c1c1c" stroke-width="3.0"/>
<line x1="529.60" y1="1137.00" x2="541.20" y2="1137.00" stroke="#1c1c1c" stroke-width="2.9" stroke-linecap="round"/>
<line x1="529.60" y1="1196.20" x2="541.20" y2="1196.20" stroke="#1c1c1c" stroke-width="2.9" stroke-linecap="round"/>
<circle cx="250.90" cy="1230.10" r="12.92" fill="#1c1c1c" stroke="#1c1c1c" stroke-width="1.1"/>
<circle cx="393.10" cy="1216.20" r="12.92" fill="#1c1c1c" stroke="#1c1c1c" stroke-width="1.1"/>
<circle cx="535.40" cy="1165.80" r="12.92" fill="#1c1c1c" stroke="#1c1c1c" stroke-width="1.1"/>
<path d="M250.90,1191.90 L393.10,1192.10 L535.40,1110.00" fill="none" stroke="#1c1c1c" stroke-width="3.0" stroke-linejoin="round"/>
<line x1="250.90" y1="1176.20" x2="250.90" y2="1207.70" stroke="#1c1c1c" stroke-width="3.0"/>
<line x1="245.10" y1="1176.20" x2="256.70" y2="1176.20" stroke="#1c1c1c" stroke-width="2.9" stroke-linecap="round"/>
<line x1="245.10" y1="1207.70" x2="256.70" y2="1207.70" stroke="#1c1c1c" stroke-width="2.9" stroke-linecap="round"/>
<line x1="393.10" y1="1176.10" x2="393.10" y2="1208.10" stroke="#1c1c1c" stroke-width="3.0"/>
<line x1="387.30" y1="1176.10" x2="398.90" y2="1176.10" stroke="#1c1c1c" stroke-width="2.9" stroke-linecap="round"/>
<line x1="387.30" y1="1208.10" x2="398.90" y2="1208.10" stroke="#1c1c1c" stroke-width="2.9" stroke-linecap="round"/>
<line x1="535.40" y1="1079.80" x2="535.40" y2="1141.70" stroke="#1c1c1c" stroke-width="3.0"/>
<line x1="529.60" y1="1079.80" x2="541.20" y2="1079.80" stroke="#1c1c1c" stroke-width="2.9" stroke-linecap="round"/>
<line x1="529.60" y1="1141.70" x2="541.20" y2="1141.70" stroke="#1c1c1c" stroke-width="2.9" stroke-linecap="round"/>
<circle cx="250.90" cy="1191.90" r="12.8" fill="#fff" stroke="#1c1c1c" stroke-width="1.1"/>
<circle cx="393.10" cy="1192.10" r="12.8" fill="#fff" stroke="#1c1c1c" stroke-width="1.1"/>
<circle cx="535.40" cy="1110.00" r="12.8" fill="#fff" stroke="#1c1c1c" stroke-width="1.1"/>
<line x1="250.90" y1="1093.70" x2="393.10" y2="1112.10" stroke="#1c1c1c" stroke-width="3.0" stroke-dasharray="16.34 5.45" stroke-dashoffset="0.81"/>
<line x1="393.10" y1="1112.10" x2="535.40" y2="1115.00" stroke="#1c1c1c" stroke-width="3.0" stroke-dasharray="16.20 5.40" stroke-dashoffset="13.40"/>
<line x1="250.90" y1="1063.50" x2="250.90" y2="1123.90" stroke="#1c1c1c" stroke-width="3.0"/>
<line x1="245.10" y1="1063.50" x2="256.70" y2="1063.50" stroke="#1c1c1c" stroke-width="2.9" stroke-linecap="round"/>
<line x1="245.10" y1="1123.90" x2="256.70" y2="1123.90" stroke="#1c1c1c" stroke-width="2.9" stroke-linecap="round"/>
<line x1="393.10" y1="1103.40" x2="393.10" y2="1120.80" stroke="#1c1c1c" stroke-width="3.0"/>
<line x1="387.30" y1="1103.40" x2="398.90" y2="1103.40" stroke="#1c1c1c" stroke-width="2.9" stroke-linecap="round"/>
<line x1="387.30" y1="1120.80" x2="398.90" y2="1120.80" stroke="#1c1c1c" stroke-width="2.9" stroke-linecap="round"/>
<line x1="535.40" y1="1083.30" x2="535.40" y2="1146.50" stroke="#1c1c1c" stroke-width="3.0"/>
<line x1="529.60" y1="1083.30" x2="541.20" y2="1083.30" stroke="#1c1c1c" stroke-width="2.9" stroke-linecap="round"/>
<line x1="529.60" y1="1146.50" x2="541.20" y2="1146.50" stroke="#1c1c1c" stroke-width="2.9" stroke-linecap="round"/>
<polygon points="238.05,1086.28 263.75,1086.28 250.90,1108.53" fill="#1c1c1c" stroke="#1c1c1c" stroke-width="1.1" stroke-linejoin="miter"/>
<polygon points="380.25,1104.68 405.95,1104.68 393.10,1126.93" fill="#1c1c1c" stroke="#1c1c1c" stroke-width="1.1" stroke-linejoin="miter"/>
<polygon points="522.55,1107.58 548.25,1107.58 535.40,1129.83" fill="#1c1c1c" stroke="#1c1c1c" stroke-width="1.1" stroke-linejoin="miter"/>
<line x1="250.90" y1="1128.30" x2="393.10" y2="1082.30" stroke="#1c1c1c" stroke-width="3.0" stroke-dasharray="17.03 5.68" stroke-dashoffset="0.84"/>
<line x1="393.10" y1="1082.30" x2="535.40" y2="1092.50" stroke="#1c1c1c" stroke-width="3.0" stroke-dasharray="16.24 5.41" stroke-dashoffset="13.43"/>
<line x1="250.90" y1="1117.10" x2="250.90" y2="1139.70" stroke="#1c1c1c" stroke-width="3.0"/>
<line x1="245.10" y1="1117.10" x2="256.70" y2="1117.10" stroke="#1c1c1c" stroke-width="2.9" stroke-linecap="round"/>
<line x1="245.10" y1="1139.70" x2="256.70" y2="1139.70" stroke="#1c1c1c" stroke-width="2.9" stroke-linecap="round"/>
<line x1="393.10" y1="1051.30" x2="393.10" y2="1113.30" stroke="#1c1c1c" stroke-width="3.0"/>
<line x1="387.30" y1="1051.30" x2="398.90" y2="1051.30" stroke="#1c1c1c" stroke-width="2.9" stroke-linecap="round"/>
<line x1="387.30" y1="1113.30" x2="398.90" y2="1113.30" stroke="#1c1c1c" stroke-width="2.9" stroke-linecap="round"/>
<line x1="535.40" y1="1079.80" x2="535.40" y2="1105.50" stroke="#1c1c1c" stroke-width="3.0"/>
<line x1="529.60" y1="1079.80" x2="541.20" y2="1079.80" stroke="#1c1c1c" stroke-width="2.9" stroke-linecap="round"/>
<line x1="529.60" y1="1105.50" x2="541.20" y2="1105.50" stroke="#1c1c1c" stroke-width="2.9" stroke-linecap="round"/>
<polygon points="238.05,1135.72 263.75,1135.72 250.90,1113.47" fill="#fff" stroke="#1c1c1c" stroke-width="1.1" stroke-linejoin="miter"/>
<polygon points="380.25,1089.72 405.95,1089.72 393.10,1067.47" fill="#fff" stroke="#1c1c1c" stroke-width="1.1" stroke-linejoin="miter"/>
<polygon points="522.55,1099.92 548.25,1099.92 535.40,1077.67" fill="#fff" stroke="#1c1c1c" stroke-width="1.1" stroke-linejoin="miter"/>
<path d="M819.50,1172.70 L962.20,1182.70 L1104.40,1177.20" fill="none" stroke="#1c1c1c" stroke-width="3.0" stroke-linejoin="round"/>
<line x1="819.50" y1="1150.80" x2="819.50" y2="1194.60" stroke="#1c1c1c" stroke-width="3.0"/>
<line x1="813.70" y1="1150.80" x2="825.30" y2="1150.80" stroke="#1c1c1c" stroke-width="2.9" stroke-linecap="round"/>
<line x1="813.70" y1="1194.60" x2="825.30" y2="1194.60" stroke="#1c1c1c" stroke-width="2.9" stroke-linecap="round"/>
<line x1="962.20" y1="1170.90" x2="962.20" y2="1194.50" stroke="#1c1c1c" stroke-width="3.0"/>
<line x1="956.40" y1="1170.90" x2="968.00" y2="1170.90" stroke="#1c1c1c" stroke-width="2.9" stroke-linecap="round"/>
<line x1="956.40" y1="1194.50" x2="968.00" y2="1194.50" stroke="#1c1c1c" stroke-width="2.9" stroke-linecap="round"/>
<line x1="1104.40" y1="1152.70" x2="1104.40" y2="1203.30" stroke="#1c1c1c" stroke-width="3.0"/>
<line x1="1098.60" y1="1152.70" x2="1110.20" y2="1152.70" stroke="#1c1c1c" stroke-width="2.9" stroke-linecap="round"/>
<line x1="1098.60" y1="1203.30" x2="1110.20" y2="1203.30" stroke="#1c1c1c" stroke-width="2.9" stroke-linecap="round"/>
<circle cx="819.50" cy="1172.70" r="12.92" fill="#1c1c1c" stroke="#1c1c1c" stroke-width="1.1"/>
<circle cx="962.20" cy="1182.70" r="12.92" fill="#1c1c1c" stroke="#1c1c1c" stroke-width="1.1"/>
<circle cx="1104.40" cy="1177.20" r="12.92" fill="#1c1c1c" stroke="#1c1c1c" stroke-width="1.1"/>
<path d="M819.50,1149.60 L962.20,1173.10 L1104.40,1127.80" fill="none" stroke="#1c1c1c" stroke-width="3.0" stroke-linejoin="round"/>
<line x1="819.50" y1="1133.30" x2="819.50" y2="1165.90" stroke="#1c1c1c" stroke-width="3.0"/>
<line x1="813.70" y1="1133.30" x2="825.30" y2="1133.30" stroke="#1c1c1c" stroke-width="2.9" stroke-linecap="round"/>
<line x1="813.70" y1="1165.90" x2="825.30" y2="1165.90" stroke="#1c1c1c" stroke-width="2.9" stroke-linecap="round"/>
<line x1="962.20" y1="1152.40" x2="962.20" y2="1193.80" stroke="#1c1c1c" stroke-width="3.0"/>
<line x1="956.40" y1="1152.40" x2="968.00" y2="1152.40" stroke="#1c1c1c" stroke-width="2.9" stroke-linecap="round"/>
<line x1="956.40" y1="1193.80" x2="968.00" y2="1193.80" stroke="#1c1c1c" stroke-width="2.9" stroke-linecap="round"/>
<line x1="1104.40" y1="1105.20" x2="1104.40" y2="1150.40" stroke="#1c1c1c" stroke-width="3.0"/>
<line x1="1098.60" y1="1105.20" x2="1110.20" y2="1105.20" stroke="#1c1c1c" stroke-width="2.9" stroke-linecap="round"/>
<line x1="1098.60" y1="1150.40" x2="1110.20" y2="1150.40" stroke="#1c1c1c" stroke-width="2.9" stroke-linecap="round"/>
<circle cx="819.50" cy="1149.60" r="12.8" fill="#fff" stroke="#1c1c1c" stroke-width="1.1"/>
<circle cx="962.20" cy="1173.10" r="12.8" fill="#fff" stroke="#1c1c1c" stroke-width="1.1"/>
<circle cx="1104.40" cy="1127.80" r="12.8" fill="#fff" stroke="#1c1c1c" stroke-width="1.1"/>
<line x1="819.50" y1="1127.90" x2="962.20" y2="1107.20" stroke="#1c1c1c" stroke-width="3.0" stroke-dasharray="16.37 5.46" stroke-dashoffset="0.81"/>
<line x1="962.20" y1="1107.20" x2="1104.40" y2="1101.50" stroke="#1c1c1c" stroke-width="3.0" stroke-dasharray="16.21 5.40" stroke-dashoffset="13.91"/>
<line x1="819.50" y1="1107.20" x2="819.50" y2="1148.60" stroke="#1c1c1c" stroke-width="3.0"/>
<line x1="813.70" y1="1107.20" x2="825.30" y2="1107.20" stroke="#1c1c1c" stroke-width="2.9" stroke-linecap="round"/>
<line x1="813.70" y1="1148.60" x2="825.30" y2="1148.60" stroke="#1c1c1c" stroke-width="2.9" stroke-linecap="round"/>
<line x1="962.20" y1="1084.50" x2="962.20" y2="1129.00" stroke="#1c1c1c" stroke-width="3.0"/>
<line x1="956.40" y1="1084.50" x2="968.00" y2="1084.50" stroke="#1c1c1c" stroke-width="2.9" stroke-linecap="round"/>
<line x1="956.40" y1="1129.00" x2="968.00" y2="1129.00" stroke="#1c1c1c" stroke-width="2.9" stroke-linecap="round"/>
<line x1="1104.40" y1="1079.50" x2="1104.40" y2="1124.30" stroke="#1c1c1c" stroke-width="3.0"/>
<line x1="1098.60" y1="1079.50" x2="1110.20" y2="1079.50" stroke="#1c1c1c" stroke-width="2.9" stroke-linecap="round"/>
<line x1="1098.60" y1="1124.30" x2="1110.20" y2="1124.30" stroke="#1c1c1c" stroke-width="2.9" stroke-linecap="round"/>
<polygon points="806.65,1120.48 832.35,1120.48 819.50,1142.73" fill="#1c1c1c" stroke="#1c1c1c" stroke-width="1.1" stroke-linejoin="miter"/>
<polygon points="949.35,1099.78 975.05,1099.78 962.20,1122.03" fill="#1c1c1c" stroke="#1c1c1c" stroke-width="1.1" stroke-linejoin="miter"/>
<polygon points="1091.55,1094.08 1117.25,1094.08 1104.40,1116.33" fill="#1c1c1c" stroke="#1c1c1c" stroke-width="1.1" stroke-linejoin="miter"/>
<line x1="819.50" y1="1149.80" x2="962.20" y2="1108.50" stroke="#1c1c1c" stroke-width="3.0" stroke-dasharray="16.86 5.62" stroke-dashoffset="0.83"/>
<line x1="962.20" y1="1108.50" x2="1104.40" y2="1094.60" stroke="#1c1c1c" stroke-width="3.0" stroke-dasharray="16.28 5.43" stroke-dashoffset="13.97"/>
<line x1="819.50" y1="1133.30" x2="819.50" y2="1166.30" stroke="#1c1c1c" stroke-width="3.0"/>
<line x1="813.70" y1="1133.30" x2="825.30" y2="1133.30" stroke="#1c1c1c" stroke-width="2.9" stroke-linecap="round"/>
<line x1="813.70" y1="1166.30" x2="825.30" y2="1166.30" stroke="#1c1c1c" stroke-width="2.9" stroke-linecap="round"/>
<line x1="962.20" y1="1090.00" x2="962.20" y2="1128.00" stroke="#1c1c1c" stroke-width="3.0"/>
<line x1="956.40" y1="1090.00" x2="968.00" y2="1090.00" stroke="#1c1c1c" stroke-width="2.9" stroke-linecap="round"/>
<line x1="956.40" y1="1128.00" x2="968.00" y2="1128.00" stroke="#1c1c1c" stroke-width="2.9" stroke-linecap="round"/>
<line x1="1104.40" y1="1085.00" x2="1104.40" y2="1104.20" stroke="#1c1c1c" stroke-width="3.0"/>
<line x1="1098.60" y1="1085.00" x2="1110.20" y2="1085.00" stroke="#1c1c1c" stroke-width="2.9" stroke-linecap="round"/>
<line x1="1098.60" y1="1104.20" x2="1110.20" y2="1104.20" stroke="#1c1c1c" stroke-width="2.9" stroke-linecap="round"/>
<polygon points="806.65,1157.22 832.35,1157.22 819.50,1134.97" fill="#fff" stroke="#1c1c1c" stroke-width="1.1" stroke-linejoin="miter"/>
<polygon points="949.35,1115.92 975.05,1115.92 962.20,1093.67" fill="#fff" stroke="#1c1c1c" stroke-width="1.1" stroke-linejoin="miter"/>
<polygon points="1091.55,1102.02 1117.25,1102.02 1104.40,1079.77" fill="#fff" stroke="#1c1c1c" stroke-width="1.1" stroke-linejoin="miter"/>
<rect x="913.9" y="79.4" width="314.6" height="169.1" fill="#fff" stroke="#3a3a3a" stroke-width="1.4"/>
<line x1="929.5" y1="112.2" x2="994.2" y2="112.2" stroke="#1c1c1c" stroke-width="3.0" stroke-linecap="round"/>
<circle cx="961.80" cy="112.20" r="12.92" fill="#1c1c1c" stroke="#1c1c1c" stroke-width="1.1"/>
<text x="1010.6" y="120.8" font-size="25.6" fill="#161616">SHS-ambient</text>
<line x1="929.5" y1="147.7" x2="994.2" y2="147.7" stroke="#1c1c1c" stroke-width="3.0" stroke-linecap="round"/>
<circle cx="961.80" cy="147.70" r="12.8" fill="#fff" stroke="#1c1c1c" stroke-width="1.1"/>
<text x="1010.6" y="156.1" font-size="25.6" fill="#161616">SHS-elevated</text>
<line x1="928.2" y1="183.5" x2="987.2" y2="183.5" stroke="#1c1c1c" stroke-width="3.0" stroke-dasharray="16.0 5.6"/>
<polygon points="948.95,176.48 974.65,176.48 961.80,198.73" fill="#1c1c1c" stroke="#1c1c1c" stroke-width="1.1" stroke-linejoin="miter"/>
<text x="1010.6" y="191.6" font-size="25.6" fill="#161616">Nonheat-ambient</text>
<line x1="928.2" y1="219.1" x2="987.2" y2="219.1" stroke="#1c1c1c" stroke-width="3.0" stroke-dasharray="16.0 5.6"/>
<polygon points="948.95,226.92 974.65,226.92 961.80,204.67" fill="#fff" stroke="#1c1c1c" stroke-width="1.1" stroke-linejoin="miter"/>
<text x="1010.6" y="227.0" font-size="25.6" fill="#161616">Nonheat-elevated</text>
</svg>
</body></html>
